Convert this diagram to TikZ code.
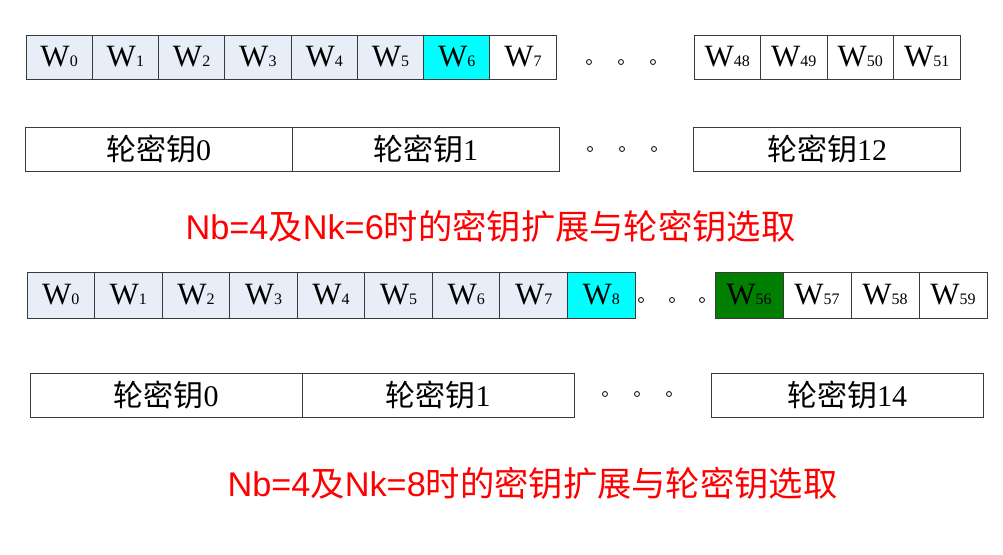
\documentclass[tikz,border=0pt]{standalone}
\usepackage{fontspec}
\setmainfont{Liberation Serif}
\newfontfamily\cjk{Noto Sans CJK SC}
\newfontfamily\arial{Liberation Sans}
\definecolor{wfill}{HTML}{E8EEF8}
\definecolor{lgray}{HTML}{3A3A3A}
\definecolor{dgreen}{HTML}{007F00}
\definecolor{cyanhl}{HTML}{00FFFF}
\newcommand\wl[1]{{\fontsize{31}{31}\selectfont W}{\fontsize{16}{16}\selectfont #1}}
\newcommand\kl[1]{{\fontsize{30}{30}\selectfont{\cjk 轮密钥}#1}}
\begin{document}
\begin{tikzpicture}[x=1pt,y=-1pt,
  cellA/.style={draw=lgray, line width=1pt, fill=wfill, minimum width=66.25pt, minimum height=44pt, inner sep=0pt, outer sep=0pt},
  cellB/.style={draw=lgray, line width=1pt, fill=wfill, minimum width=67.56pt, minimum height=46pt, inner sep=0pt, outer sep=0pt},
  cellC/.style={draw=lgray, line width=1pt, fill=white, minimum width=66.5pt, minimum height=44pt, inner sep=0pt, outer sep=0pt},
  cellD/.style={draw=lgray, line width=1pt, fill=white, minimum width=68pt, minimum height=46pt, inner sep=0pt, outer sep=0pt},
  keybox/.style={draw=lgray, line width=1pt, fill=white, minimum width=267pt, minimum height=44pt, inner sep=0pt, outer sep=0pt},
  keyboxB/.style={draw=lgray, line width=1pt, fill=white, minimum width=272pt, minimum height=44pt, inner sep=0pt, outer sep=0pt},
  dotc/.style={circle, draw=black, line width=0.8pt, minimum size=5pt, inner sep=0pt},
  title/.style={text=red, font=\fontsize{34.3}{34.3}\selectfont, inner sep=0pt}]
\useasboundingbox (0,0) rectangle (1003,554);
% ---- row 1 words
\node[cellA] (a0) at (59.125,57) {\wl{0}};
\node[cellA] (a1) at (125.375,57) {\wl{1}};
\node[cellA] (a2) at (191.625,57) {\wl{2}};
\node[cellA] (a3) at (257.875,57) {\wl{3}};
\node[cellA] (a4) at (324.125,57) {\wl{4}};
\node[cellA] (a5) at (390.375,57) {\wl{5}};
\node[cellA, fill=cyanhl] (a6) at (456.625,57) {\wl{6}};
\node[cellA, fill=white] (a7) at (522.875,57) {\wl{7}};
\node[dotc] (ad1) at (589,62) {};
\node[dotc] (ad2) at (621,62) {};
\node[dotc] (ad3) at (653,62) {};
\node[cellC] (a48) at (727.25,57) {\wl{48}};
\node[cellC] (a49) at (793.75,57) {\wl{49}};
\node[cellC] (a50) at (860.25,57) {\wl{50}};
\node[cellC] (a51) at (926.75,57) {\wl{51}};
% ---- row 1 round keys
\node[keybox] (k0) at (158.5,149) {\kl{0}};
\node[keybox] (k1) at (425.5,149) {\kl{1}};
\node[dotc] (kd1) at (590,149) {};
\node[dotc] (kd2) at (622,149) {};
\node[dotc] (kd3) at (654,149) {};
\node[keybox] (k12) at (827,149) {\kl{12}};
\node[title] (t1) at (490.5,226) {{\arial Nb=4}{\cjk 及}{\arial Nk=6}{\cjk 时的密钥扩展与轮密钥选取}};
% ---- row 2 words
\node[cellB] (b0) at (60.78,295) {\wl{0}};
\node[cellB] (b1) at (128.34,295) {\wl{1}};
\node[cellB] (b2) at (195.90,295) {\wl{2}};
\node[cellB] (b3) at (263.46,295) {\wl{3}};
\node[cellB] (b4) at (331.02,295) {\wl{4}};
\node[cellB] (b5) at (398.58,295) {\wl{5}};
\node[cellB] (b6) at (466.14,295) {\wl{6}};
\node[cellB] (b7) at (533.70,295) {\wl{7}};
\node[cellB, fill=cyanhl] (b8) at (601.26,295) {\wl{8}};
\node[dotc] (bd1) at (641,300) {};
\node[dotc] (bd2) at (672,300) {};
\node[dotc] (bd3) at (702,300) {};
\node[cellD, fill=dgreen] (b56) at (749,295) {\wl{56}};
\node[cellD] (b57) at (817,295) {\wl{57}};
\node[cellD] (b58) at (885,295) {\wl{58}};
\node[cellD] (b59) at (953,295) {\wl{59}};
% ---- row 2 round keys
\node[keyboxB] (m0) at (166,395) {\kl{0}};
\node[keyboxB] (m1) at (438,395) {\kl{1}};
\node[dotc] (md1) at (605,394) {};
\node[dotc] (md2) at (637,394) {};
\node[dotc] (md3) at (669,394) {};
\node[keyboxB] (m14) at (847,395) {\kl{14}};
\node[title] (t2) at (532.5,483) {{\arial Nb=4}{\cjk 及}{\arial Nk=8}{\cjk 时的密钥扩展与轮密钥选取}};
\end{tikzpicture}
\end{document}
